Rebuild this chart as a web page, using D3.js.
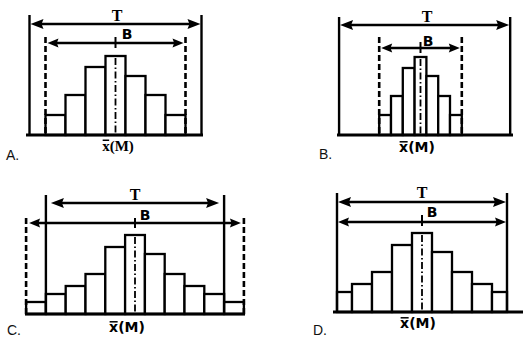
<!DOCTYPE html>
<html>
<head>
<meta charset="utf-8">
<script src="https://cdn.jsdelivr.net/npm/d3@7"></script>
<style>
  html, body { margin: 0; padding: 0; background: #fff; }
  svg { display: block; }
</style>
</head>
<body>
<svg id="chart"></svg>
<script>
// histogram frequencies (one per bin)
const freqA = [20, 40, 68, 79, 59, 40, 20];
const freqB = [20, 39, 67, 78, 59, 39, 20];
const freqC = [12, 20, 28, 40, 67, 79, 60, 40, 28, 20, 12];
const freqD = [20, 28, 40, 67, 79, 60, 40, 28, 20];

// bin edges, in units of one bin width around the mean
const edgesA = [-3.5, -2.5, -1.5, -0.5, 0.5, 1.5, 2.5, 3.5];
const edgesB = [-3.5, -2.5, -1.5, -0.5, 0.5, 1.5, 2.5, 3.5];
const edgesC = [-5.5, -4.5, -3.5, -2.5, -1.5, -0.5, 0.5, 1.5, 2.5, 3.5, 4.5, 5.5];
const edgesD = [-4.25, -3.5, -2.5, -1.5, -0.5, 0.5, 1.5, 2.5, 3.5, 4.25];

// tolerance range T and actual spread B (same units)
const tolA = [-4.3, 4.3];
const tolB = [-6.9, 7.6];
const tolC = [-4.5, 4.5];
const tolD = [-4.25, 4.25];
const spreadA = [-3.5, 3.5];
const spreadB = [-3.5, 3.5];
const spreadC = [-5.5, 5.5];
const spreadD = [-4.25, 4.25];

const panelLabels = ['A.', 'B.', 'C.', 'D.'];
const rangeLabels = ['T', 'B'];
const meanLabel = ['x', '(M)'];

const width = 532, height = 347;

// layout of each panel (pixels)
const panels = [
  { freq: freqA, edges: edgesA, tol: tolA, spread: spreadA, label: panelLabels[0],
    cx: 115.5, unit: 20, base: 135, tTop: 15, tY: 24, bTop: 37, bY: 43, tick: [37, 48],
    tText: [117, 21], bText: [127, 39], axis: [26, 203], tInset: 1, bInset: 2,
    mean: [118, 151], meanFont: 'Liberation Serif', meanSize: 15, lab: [6, 160], bDashed: true },
  { freq: freqB, edges: edgesB, tol: tolB, spread: spreadB, label: panelLabels[1],
    cx: 420.5, unit: 11.8, base: 135, tTop: 17, tY: 25, bTop: 37, bY: 48, tick: [42, 53],
    tText: [427, 22], bText: [428, 46], axis: [337, 513], tInset: 1, bInset: 2,
    mean: [417, 152], meanFont: 'DejaVu Sans', meanSize: 14, lab: [319, 159], bDashed: true },
  { freq: freqC, edges: edgesC, tol: tolC, spread: spreadC, label: panelLabels[2],
    cx: 135, unit: 19.8, base: 314, tTop: 195, tY: 203, bTop: 218, bY: 223, tick: [218, 228],
    tText: [135, 200], bText: [145, 220], axis: [25, 245], tInset: 5, bInset: 3,
    mean: [127, 332], meanFont: 'DejaVu Sans', meanSize: 14, lab: [7, 335], bDashed: true },
  { freq: freqD, edges: edgesD, tol: tolD, spread: spreadD, label: panelLabels[3],
    cx: 422, unit: 20, base: 312, tTop: 193, tY: 202, bTop: 193, bY: 222, tick: [215, 226],
    tText: [422, 198], bText: [432, 217], axis: [333, 523], tInset: 1, bInset: 1,
    mean: [418, 328], meanFont: 'DejaVu Sans', meanSize: 14, lab: [313, 335], bDashed: false }
];

const svg = d3.select('#chart')
  .attr('width', width)
  .attr('height', height);

// double-headed arrow, heads pointing outwards
function arrow(g, x1, x2, y, len, half) {
  g.append('line')
    .attr('x1', x1 + len * 0.5).attr('x2', x2 - len * 0.5)
    .attr('y1', y).attr('y2', y)
    .attr('stroke', '#000').attr('stroke-width', 2.4);
  const head = (tip, dir) => `M${tip},${y}L${tip + dir * len},${y - half}L${tip + dir * len * 0.85},${y}L${tip + dir * len},${y + half}Z`;
  g.append('path').attr('d', head(x1, 1)).attr('fill', '#000');
  g.append('path').attr('d', head(x2, -1)).attr('fill', '#000');
}

panels.forEach(p => {
  const g = svg.append('g');

  const x = d3.scaleLinear()
    .domain([-1, 1])
    .range([p.cx - p.unit, p.cx + p.unit]);
  const y = d3.scaleLinear()
    .domain([0, 80])
    .range([p.base, p.base - 80]);

  const bins = p.freq.map((f, i) => ({ x0: p.edges[i], x1: p.edges[i + 1], f: f }));

  // bars
  g.selectAll('rect')
    .data(bins)
    .join('rect')
      .attr('x', d => x(d.x0))
      .attr('y', d => y(d.f))
      .attr('width', d => x(d.x1) - x(d.x0))
      .attr('height', d => y(0) - y(d.f))
      .attr('fill', '#fff')
      .attr('stroke', '#000')
      .attr('stroke-width', 2.3);

  // centre (mean) line, dash-dot
  const top = bins.find(d => d.x0 <= 0 && d.x1 > 0);
  g.append('line')
    .attr('x1', x(0)).attr('x2', x(0))
    .attr('y1', y(top.f) + 2).attr('y2', y(0))
    .attr('stroke', '#000').attr('stroke-width', 1.8)
    .attr('stroke-dasharray', '7,2.5,1.5,2.5');

  // tolerance limits T
  g.selectAll('line.tol')
    .data(p.tol)
    .join('line')
      .attr('class', 'tol')
      .attr('x1', d => x(d)).attr('x2', d => x(d))
      .attr('y1', p.tTop).attr('y2', p.base)
      .attr('stroke', '#000').attr('stroke-width', 2.4);

  // spread limits B
  if (p.bDashed) {
    g.selectAll('line.spread')
      .data(p.spread)
      .join('line')
        .attr('class', 'spread')
        .attr('x1', d => x(d)).attr('x2', d => x(d))
        .attr('y1', p.bTop).attr('y2', p.base)
        .attr('stroke', '#000').attr('stroke-width', 2.6)
        .attr('stroke-dasharray', '6,3');
  }

  arrow(g, x(p.tol[0]) + p.tInset, x(p.tol[1]) - p.tInset, p.tY, 13, 5);
  arrow(g, x(p.spread[0]) + p.bInset, x(p.spread[1]) - p.bInset, p.bY, 11, 4.5);

  // small tick at the mean on the B arrow
  g.append('line')
    .attr('x1', x(0)).attr('x2', x(0))
    .attr('y1', p.tick[0]).attr('y2', p.tick[1])
    .attr('stroke', '#000').attr('stroke-width', 2);

  // baseline
  g.append('line')
    .attr('x1', p.axis[0]).attr('x2', p.axis[1])
    .attr('y1', p.base).attr('y2', p.base)
    .attr('stroke', '#000').attr('stroke-width', 2.8);

  // T and B labels
  g.append('text')
    .attr('x', p.tText[0]).attr('y', p.tText[1])
    .attr('text-anchor', 'middle')
    .style('font-family', 'Liberation Serif')
    .style('font-weight', 'bold')
    .style('font-size', '16px')
    .text(rangeLabels[0]);
  g.append('text')
    .attr('x', p.bText[0]).attr('y', p.bText[1])
    .attr('text-anchor', 'middle')
    .style('font-family', 'DejaVu Sans')
    .style('font-weight', 'bold')
    .style('font-size', '14px')
    .text(rangeLabels[1]);

  // x-bar (M) label under the axis
  const mean = g.append('text')
    .attr('x', p.mean[0]).attr('y', p.mean[1])
    .attr('text-anchor', 'middle')
    .style('font-family', p.meanFont)
    .style('font-weight', 'bold')
    .style('font-size', p.meanSize + 'px')
    .text(meanLabel.join(''));
  const ext = mean.node().getExtentOfChar(0);
  const barY = p.mean[1] - p.meanSize * 0.55 - 2.5;
  g.append('line')
    .attr('x1', ext.x + 0.5).attr('x2', ext.x + ext.width - 0.5)
    .attr('y1', barY).attr('y2', barY)
    .attr('stroke', '#000').attr('stroke-width', 1.5);

  // panel letter
  g.append('text')
    .attr('x', p.lab[0]).attr('y', p.lab[1])
    .style('font-family', 'Liberation Sans')
    .style('font-size', '14px')
    .style('fill', '#111')
    .text(p.label);
});
</script>
</body>
</html>
